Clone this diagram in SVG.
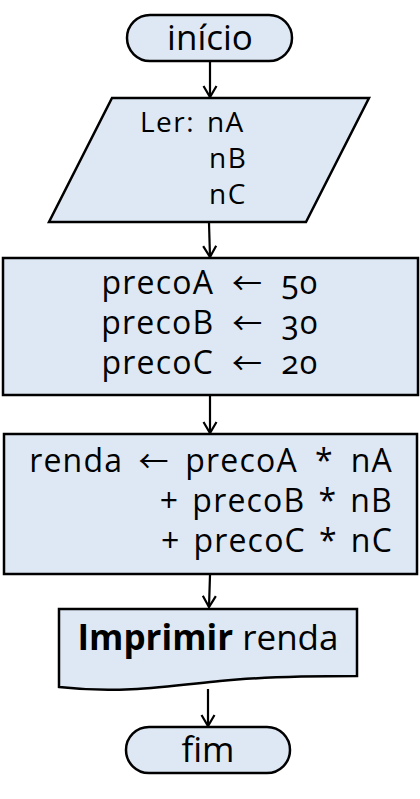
<svg xmlns="http://www.w3.org/2000/svg" width="420" height="799" viewBox="0 0 420 799">
<style>
.shape{fill:#dee8f4;stroke:#000;stroke-width:2.5}
.t{font-family:"Open Sans","Liberation Sans",sans-serif;fill:#000;font-variant-numeric:oldstyle-nums}
.c{stroke:#000;stroke-width:2.2;fill:none}
.ar{font-family:"Noto Sans CJK SC","DejaVu Sans",sans-serif;font-size:30px}
</style>
<defs>
<marker id="arr" markerWidth="16" markerHeight="16" refX="13" refY="8" orient="auto" markerUnits="userSpaceOnUse">
<path d="M2,1.5 L13,8 L2,14.5" fill="none" stroke="#000" stroke-width="2.2"/>
</marker>
</defs>
<rect width="420" height="799" fill="#fff"/>
<g id="connectors">
<line class="c" x1="210" y1="62" x2="210" y2="97" marker-end="url(#arr)"/>
<line class="c" x1="209" y1="223" x2="210" y2="257" marker-end="url(#arr)"/>
<line class="c" x1="210" y1="396" x2="210" y2="433" marker-end="url(#arr)"/>
<line class="c" x1="210" y1="575" x2="209" y2="607" marker-end="url(#arr)"/>
<line class="c" x1="208" y1="689" x2="208" y2="726" marker-end="url(#arr)"/>
</g>
<g id="inicio">
<rect class="shape" x="127" y="15" width="165" height="46" rx="23"/>
<text class="t" x="210" y="50" font-size="35" text-anchor="middle">início</text>
</g>
<g id="ler">
<polygon class="shape" points="112,98 369,98 306,222 49,222"/>
<text class="t" font-size="28" letter-spacing="1.5" word-spacing="3"><tspan x="140" y="132">Ler: nA</tspan><tspan x="209" y="168">nB</tspan><tspan x="209" y="204">nC</tspan></text>
</g>
<g id="precos">
<rect class="shape" x="3" y="258" width="415" height="137"/>
<text class="t" font-size="32" letter-spacing="1.2" word-spacing="10" text-anchor="middle"><tspan x="210" y="294">precoA<tspan class="ar"> ← </tspan>50</tspan><tspan x="210" y="334">precoB<tspan class="ar"> ← </tspan>30</tspan><tspan x="210" y="374">precoC<tspan class="ar"> ← </tspan>20</tspan></text>
</g>
<g id="renda">
<rect class="shape" x="4" y="434" width="413" height="140"/>
<text class="t" font-size="32" letter-spacing="1.2" text-anchor="end"><tspan x="393" y="472" word-spacing="7.5">renda<tspan class="ar"> ← </tspan>precoA * nA</tspan><tspan x="393" y="512" word-spacing="3.5">+ precoB * nB</tspan><tspan x="393" y="552" word-spacing="3.5">+ precoC * nC</tspan></text>
</g>
<g id="imprimir">
<path class="shape" d="M59,609 H357 V676 C300,676 260,677 220,681 C170,686 120,694 59,687 Z"/>
<text class="t" x="208" y="650" font-size="35" text-anchor="middle"><tspan font-weight="bold">Imprimir</tspan> renda</text>
</g>
<g id="fim">
<rect class="shape" x="126" y="727" width="164" height="46" rx="23"/>
<text class="t" x="208" y="762" font-size="35" text-anchor="middle">fim</text>
</g>
</svg>
